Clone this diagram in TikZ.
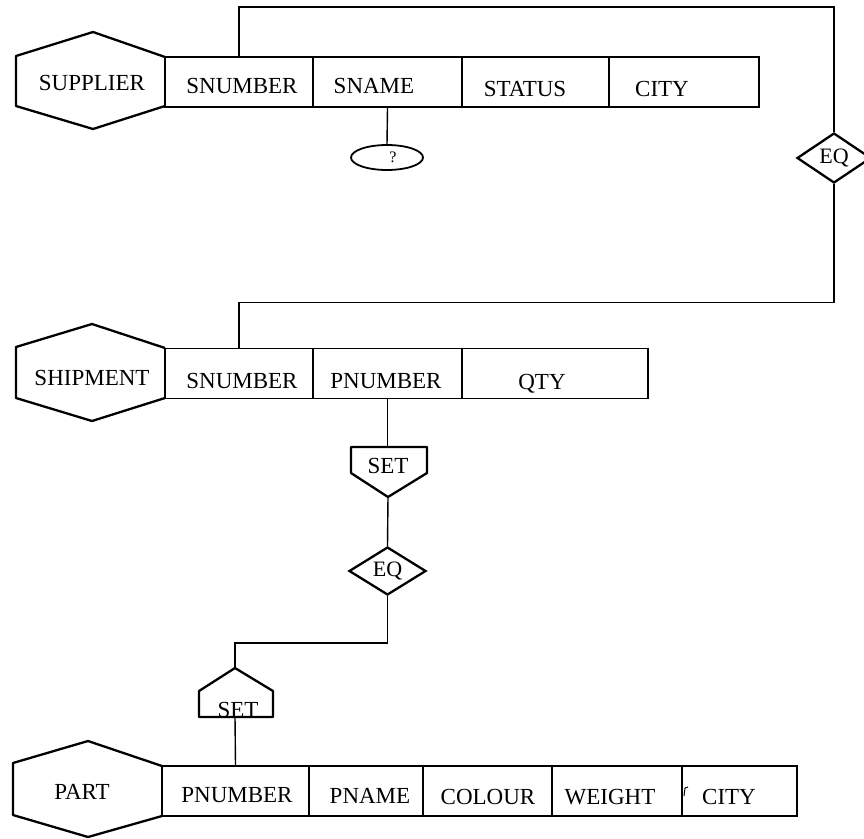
\documentclass[tikz,border=0pt]{standalone}
\usepackage{fontspec}
\setmainfont{Liberation Serif}
\usetikzlibrary{shapes.geometric,calc}
\begin{document}
\begin{tikzpicture}[x=1pt,y=-1pt,
  fieldbox/.style={draw, line width=1.7pt, inner sep=0pt, minimum height=50pt},
  lbl/.style={inner sep=0pt, anchor=base, font=\fontsize{23}{27}\selectfont},
  hexa/.style={draw, line width=2.3pt, line join=round},
  gate/.style={draw, line width=2.3pt, line join=round},
  eqbox/.style={diamond, draw, line width=2.3pt, inner sep=0pt, minimum width=74pt, minimum height=50pt, font=\fontsize{22}{26}\selectfont},
  conn/.style={line width=1.4pt}]
\useasboundingbox (0,0) rectangle (864,838);

% ---------- SUPPLIER ----------
\draw[hexa] (165,57) -- (93,32) -- (16,56) -- (16,106) -- (93,129) -- (165,106);
\node[lbl] (supplier) at (92,90) {SUPPLIER};
\node[fieldbox, minimum width=148pt] (ssnum)  at (239,82) {};
\node[fieldbox, minimum width=149pt] (ssname) at (387.5,82) {};
\node[fieldbox, minimum width=147pt] (sstat)  at (535.5,82) {};
\node[fieldbox, minimum width=150pt] (scity)  at (684,82) {};
\node[lbl] at (242,93) {SNUMBER};
\node[lbl] at (374,93) {SNAME};
\node[lbl] at (525,96) {STATUS};
\node[lbl] at (662,96) {CITY};
\node[ellipse, draw, line width=1.8pt, minimum width=72pt, minimum height=25pt, inner sep=0pt,
      font=\fontsize{16}{18}\selectfont] (unk) at (387,157.5) {\hspace*{12pt}?};
\draw[conn] (ssname.south) -- (unk.north);

% ---------- EQ between SUPPLIER and SHIPMENT ----------
\node[eqbox] (eq1) at (834,158) {EQ};
\draw[conn] (ssnum.north) -- ++(0,-49) -| (eq1.north);

% ---------- SHIPMENT ----------
\draw[hexa] (165,348) -- (92,324) -- (16,347) -- (16,398) -- (92,421) -- (165,398);
\node[lbl] (shipment) at (92,385) {SHIPMENT};
\node[fieldbox, minimum width=148pt] (hsnum) at (239,373.5) {};
\node[fieldbox, minimum width=149pt] (hpnum) at (387.5,373.5) {};
\node[fieldbox, minimum width=186pt] (hqty)  at (555,373.5) {};
\node[lbl] at (242,388) {SNUMBER};
\node[lbl] at (386,388) {PNUMBER};
\node[lbl] at (542,389) {QTY};
\draw[conn] (eq1.south) |- ($(hsnum.north)+(0,-45)$) -- (hsnum.north);

% ---------- SET below PNUMBER ----------
\draw[gate] (351,447) -- (427,447) -- (427,473) -- (388,497) -- (351,473) -- cycle;
\coordinate (set1top) at (387.5,447);
\coordinate (set1bot) at (388,497);
\node[lbl] (set1) at (388,473) {SET};
\draw[conn] (hpnum.south) -- (set1top);

% ---------- EQ between the two SETs ----------
\node[eqbox, minimum width=77pt, minimum height=48pt] (eq2) at (387.5,571) {EQ};
\draw[conn] (set1bot) -- (eq2.north);

% ---------- SET above PART ----------
\draw[gate] (235,668) -- (273,691) -- (273,717) -- (199,717) -- (199,691) -- cycle;
\coordinate (set2top) at (235,668);
\coordinate (set2bot) at (235,717);
\node[lbl] (set2) at (238,717) {SET};
\draw[conn] (eq2.south) |- ($(set2top)+(0,-25)$) -- (set2top);

% ---------- PART ----------
\draw[hexa] (162,766) -- (88,741) -- (13,763) -- (13,815) -- (88,837) -- (162,816);
\node[lbl] (part) at (82,799) {PART};
\node[fieldbox, minimum width=147pt] (ppnum)   at (235.5,791) {};
\node[fieldbox, minimum width=114pt] (ppname)  at (366,791) {};
\node[fieldbox, minimum width=129pt] (pcolour) at (487.5,791) {};
\node[fieldbox, minimum width=130pt] (pweight) at (617,791) {};
\node[fieldbox, minimum width=115pt] (pcity)   at (739.5,791) {};
\node[lbl] at (237,802) {PNUMBER};
\node[lbl] at (370,803) {PNAME};
\node[lbl] at (488,804) {COLOUR};
\node[lbl] at (610,804) {WEIGHT};
\node[lbl] at (729,804) {CITY};
\draw[line width=1pt] (688,787) -- (685,788) -- (684,796);
\draw[conn] (set2bot) -- (ppnum.north);
\end{tikzpicture}
\end{document}
